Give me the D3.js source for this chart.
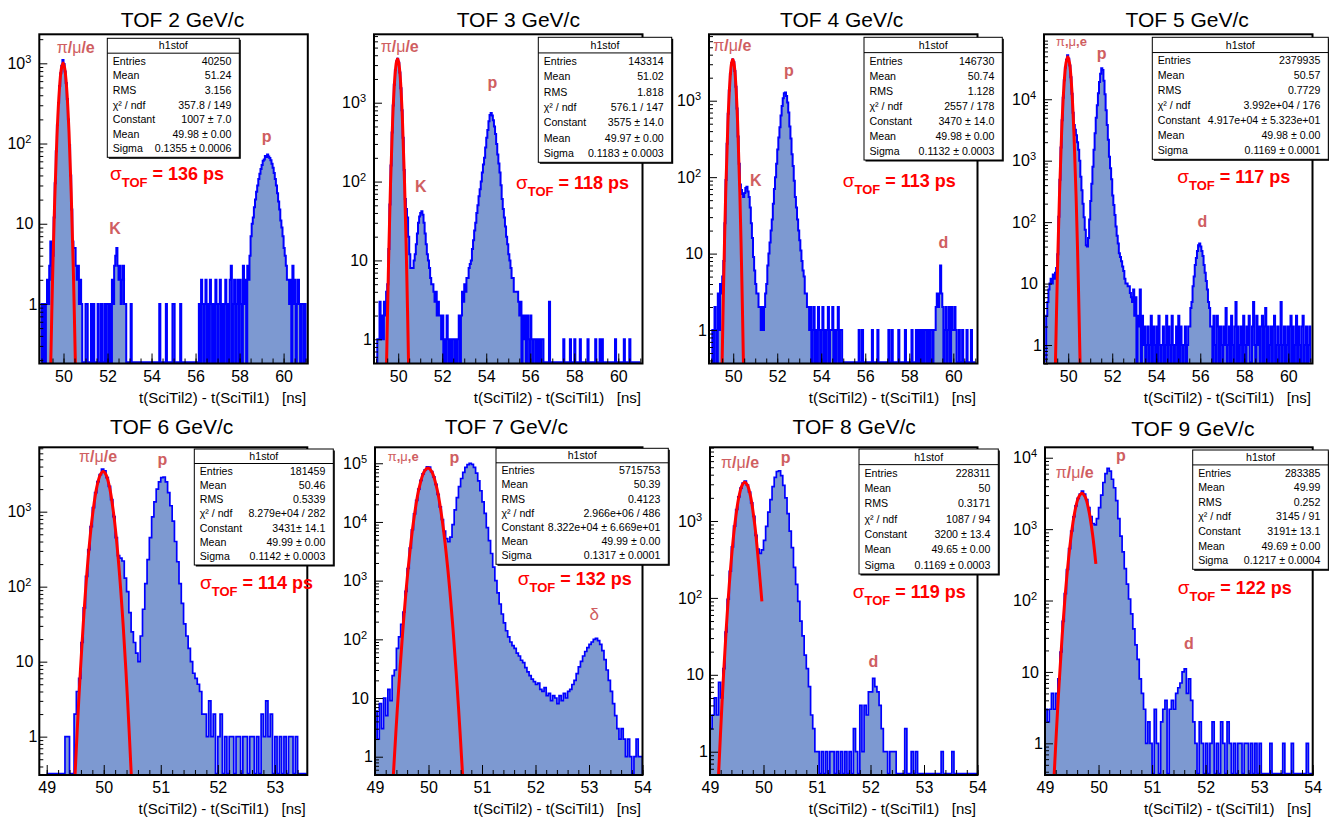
<!DOCTYPE html>
<html><head><meta charset="utf-8">
<script src="https://cdn.jsdelivr.net/npm/d3@7"></script>
<style>
html,body{margin:0;padding:0;background:#fff;}
svg{display:block;}
</style></head><body>
<svg id="c" width="1329" height="818"></svg>
<script>
// ================= DATA =================
const titles = ["TOF 2 GeV/c","TOF 3 GeV/c","TOF 4 GeV/c","TOF 5 GeV/c","TOF 6 GeV/c","TOF 7 GeV/c","TOF 8 GeV/c","TOF 9 GeV/c"];
const xAxisTitle = "t(SciTil2) - t(SciTil1)\u00a0\u00a0\u00a0[ns]";
const binStarts = [49,49,49,49,49,49,49,49];
const binWidths = [0.05,0.05,0.05,0.05,0.04,0.04,0.04,0.04];

const counts2GeV = [1,0,1,0,1,2,1,3,6,2,
4,12,32,80,170,320,520,750,930,1100,
980,790,570,360,200,95,40,15,6,5,
5,3,2,3,1,2,1,0,0,0,
1,1,0,0,0,1,0,1,0,0,
0,1,0,0,1,0,0,1,0,1,
1,0,1,0,2,1,3,4,5,3,
2,3,1,2,3,1,1,0,0,0,
0,1,0,0,0,0,0,0,0,0,
0,0,0,0,0,0,0,0,0,0,
0,0,0,0,0,0,0,1,0,0,
0,0,0,1,0,0,0,0,0,1,
1,0,0,0,0,0,1,0,0,0,
0,0,0,0,0,0,0,0,0,0,
0,0,0,1,0,2,1,0,1,2,
0,1,0,2,1,0,1,0,2,1,
0,1,2,0,1,0,1,2,0,1,
0,2,3,0,1,2,0,1,2,0,
2,1,0,3,1,2,0,3,2,4,
7,10,12,16,20,25,30,36,42,48,
54,61,63,70,68,73,69,66,62,56,
50,43,36,30,24,19,15,11,9,7,
5,4,3,2,2,1,2,0,3,1,
2,0,1,2,1,0,1,1,0,1];

const counts3GeV = [0,1,1,3,1,2,1,3,2,4,
5,14,51,160,420,920,1690,2590,3330,3600,
3210,2410,1520,800,360,140,60,45,35,20,
12,8,8,8,10,12,16,22,30,36,
40,42,38,30,22,16,12,10,8,6,
5,5,4,3,4,2,3,2,2,1,
2,0,1,0,2,1,0,1,0,1,
1,0,1,0,1,2,0,2,4,3,
5,4,6,6,8,9,10,14,18,24,
30,40,50,65,80,100,130,165,200,270,
360,450,580,700,740,690,600,500,400,300,
220,170,130,90,60,45,35,27,20,16,
12,10,8,6,6,4,4,4,4,3,
2,3,0,2,1,2,0,2,1,0,
2,1,0,1,1,0,1,0,1,0,
1,1,0,0,0,0,0,3,0,0,
0,0,0,0,0,0,0,0,0,0,
1,0,0,0,0,0,1,0,0,0,
1,0,0,0,0,1,0,0,0,0,
0,0,1,0,0,0,0,0,0,1,
0,0,0,1,0,1,0,0,0,0,
0,0,0,0,0,0,0,1,0,0,
0,0,0,0,0,1,0,0,0,0,
1,0,0,0,0,0,0,0,0,0];

const counts4GeV = [0,1,0,2,1,0,3,1,4,3,
5,8,25,92,274,673,1357,2256,3085,3470,
3206,2440,1527,788,340,150,80,68,60,55,
62,72,75,65,55,40,25,16,9,6,
4,3,3,2,2,1,2,1,2,3,
4,7,10,14,20,28,45,70,100,150,
230,330,450,640,850,1080,1250,1280,1150,950,
700,460,320,200,140,90,55,40,28,20,
15,11,8,6,5,3,3,2,2,1,
2,0,1,2,0,1,0,2,1,0,
1,2,0,1,0,1,2,0,1,1,
2,0,1,0,1,2,0,1,1,0,
0,0,0,0,0,0,0,0,0,0,
0,0,0,0,1,0,0,1,0,0,
0,0,0,0,0,0,1,0,0,0,
0,1,0,0,0,0,0,0,0,0,
0,1,0,0,1,0,0,0,0,0,
1,0,0,0,0,0,1,0,0,0,
0,0,1,0,0,0,1,0,1,0,
1,0,1,0,1,1,0,1,0,1,
1,0,1,1,2,3,2,3,7,3,
2,0,1,2,0,1,2,0,2,1,
1,2,1,0,0,1,0,0,1,0,
0,0,1,0,0,0,1,0,0,0];

const counts5GeV = [3,5,8,10,12,10,14,12,15,18,
30,122,489,1640,4550,10550,20400,32850,44000,52000,
45670,35350,22780,12240,6000,3800,3200,2600,2000,1500,
1000,550,330,200,120,75,42,40,55,110,
220,420,800,1500,2800,5000,8000,12500,19000,26000,
32000,30000,20000,12000,6600,3800,2200,1160,750,500,
270,190,130,85,60,45,31,27,23,19,
16,12,10,10,9,9,7,6,5,8,
3,6,0,3,2,8,0,3,1,2,
0,1,2,0,1,3,0,2,1,0,
2,0,3,1,0,1,2,0,1,3,
0,2,1,0,3,1,0,1,2,0,
3,0,2,1,0,1,2,0,1,2,
2,4,5,9,13,20,26,34,42,45,
40,34,28,20,15,11,8,5,4,2,
2,0,3,1,0,3,2,0,2,1,
0,2,1,4,0,1,2,0,3,1,
0,2,5,0,2,0,1,2,0,3,
1,0,2,1,3,0,0,2,5,1,
0,3,1,2,0,2,3,0,2,4,
0,2,0,1,2,0,2,3,0,1,
2,0,1,5,0,1,2,0,1,2,
0,2,3,0,2,0,1,3,0,2,
1,0,2,3,0,1,2,0,1,2];

const counts6GeV = [0,0,0,0,0,0,0,0,1,1,
0,0,2,4,6,18,52,137,311,633,
1133,1790,2510,3120,3700,3500,2840,2170,1450,860,
450,260,240,220,130,86,45,25,18,13,
10,22,50,110,230,450,850,1350,2000,2500,
2850,2900,2500,1800,1200,750,400,215,110,60,
32,22,15,10,7,6,5,4,2,2,
1,3,1,2,0,1,2,0,1,0,
1,1,0,1,1,0,1,1,0,1,
1,0,1,0,2,1,3,1,2,0,
1,0,1,0,1,0,1,1,0,1,
0,0,0,0];

const counts7GeV = [6,2,8,3,10,5,14,9,24,30,
70,110,180,290,654,1610,3600,7370,13700,23300,
36170,51100,65900,77400,87000,86000,72240,58700,43500,29400,
18100,11000,7000,5200,4600,5500,9000,16000,26000,40000,
55000,70000,85000,95000,100000,96000,85000,68000,50000,34000,
22000,14000,8000,4800,2900,1700,1000,620,400,270,
190,140,110,90,78,70,58,52,44,40,
33,28,24,21,19,17,18,14,13,15,
11,12,9,11,10,8,11,9,12,10,
13,14,17,20,26,34,42,52,62,72,
82,90,100,104,95,82,64,45,30,20,
13,8,5,3,2,3,2,1,2,1,
0,1,2,1,1];

const counts8GeV = [2,3,5,3,8,5,12,36,96,222,
460,855,1410,2060,2670,3100,3300,2920,2380,1720,
1150,650,430,380,420,560,850,1300,1900,2800,
3700,4400,4500,3900,2900,2000,1250,740,450,250,
150,90,50,32,18,12,7,3,2,1,
1,0,1,0,1,0,1,1,0,1,
0,1,0,1,0,1,0,2,1,0,
4,1,4,3,6,6,9,7,6,4,
2,1,1,0,1,1,1,0,0,0,
0,2,0,0,1,0,1,0,0,0,
0,0,0,0,0,0,0,0,1,0,
0,0,0,1,0,0,0,0,0,0,
0,0,0,0,0];

const counts9GeV = [3,2,3,5,3,5,8,19,51,125,
272,532,942,1490,2120,2700,3100,3400,3100,2600,
2000,1500,1200,1150,1400,2000,3000,4500,6000,7100,
6500,5000,3800,2500,1400,800,480,280,170,105,
65,40,24,15,8,5,3,1,2,1,
0,3,1,0,2,3,4,0,3,4,
3,5,6,7,10,11,5,8,4,2,
1,0,2,1,0,1,0,1,2,0,
1,0,2,1,0,2,1,0,1,0,
1,1,0,1,1,0,1,0,1,0,
1,0,0,0,0,1,0,0,0,0,
0,1,0,0,0,1,0,0,0,0,
0,0,1,0,0];

// Gaussian fit curves
const fitX2GeV = [49.42,49.5,49.6,49.7,49.8,49.9,49.98,50.05,50.15,50.25,50.35,50.45,50.54];
const fitY2GeV = [0.18,1.9,19.7,119,417,846,1007,881,458,139,24,2.4,0.18];
const fitX3GeV = [49.47,49.55,49.65,49.75,49.85,49.92,49.97,50.02,50.09,50.19,50.29,50.39,50.47];
const fitY3GeV = [0.49,6.6,92,633,2138,3270,3575,3270,2138,633,92,6.6,0.49];
const fitX4GeV = [49.495,49.56,49.66,49.76,49.86,49.93,49.98,50.03,50.10,50.20,50.30,50.40,50.465];
const fitY4GeV = [0.36,3.6,64,524,1980,3150,3470,3150,1980,524,64,3.6,0.36];
const fitX5GeV = [49.42,49.5,49.6,49.7,49.8,49.9,49.98,50.06,50.16,50.26,50.36,50.46,50.54];
const fitY5GeV = [0.5,10.7,251,2790,15000,38900,49170,38900,15000,2790,251,10.7,0.5];
const fitX6GeV = [49.497,49.56,49.64,49.72,49.80,49.88,49.94,49.99,50.04,50.10,50.18,50.26,50.34,50.42,50.483];
const fitY6GeV = [0.31,2.85,31.3,210,860,2157,3118,3431,3118,2157,860,210,31.3,2.85,0.31];
const fitX7GeV = [49.343,49.42,49.52,49.62,49.72,49.82,49.92,49.99,50.06,50.16,50.26,50.36,50.46,50.56,50.637];
const fitY7GeV = [0.49,7.1,142,1610,10180,36170,72240,83220,72240,36170,10180,1610,142,7.1,0.49];
const fitX8GeV = [49.16,49.22,49.30,49.38,49.46,49.54,49.60,49.65,49.70,49.76,49.84,49.91,49.97];
const fitY8GeV = [0.5,3.69,36.2,222,854,2055,2920,3200,2920,2055,854,270,90];
const fitX9GeV = [49.171,49.24,49.32,49.40,49.48,49.56,49.63,49.69,49.75,49.82,49.89,49.95];
const fitY9GeV = [0.36,3.42,31.4,187,720,1804,2826,3191,2826,1804,827,326];

const xDomains = [[48.9,61.1],[48.9,61.1],[48.9,61.1],[48.9,61.1],[48.87,53.57],[49,54],[49,54],[49,54]];
const yDomains = [[0.181,2300],[0.493,7370],[0.365,7390],[0.5,114000],[0.308,7220],[0.488,187000],[0.498,9080],[0.36,14000]];
const xMajorTicks = [[50,52,54,56,58,60],[50,52,54,56,58,60],[50,52,54,56,58,60],[50,52,54,56,58,60],
  [49,50,51,52,53],[49,50,51,52,53,54],[49,50,51,52,53,54],[49,50,51,52,53,54]];
const xMinorSteps = [0.5,0.5,0.5,0.5,0.2,0.2,0.2,0.2];
const yLabelTicks = [[1,10,100,1000],[1,10,100,1000],[1,10,100,1000],[1,10,100,1000,10000],
  [1,10,100,1000],[1,10,100,1000,10000,100000],[1,10,100,1000],[1,10,100,1000,10000]];

const statsTitle = "h1stof";
const statsNames = ["Entries","Mean","RMS","\u03c7\u00b2 / ndf","Constant","Mean","Sigma"];
const stats2GeV = ["40250","51.24","3.156","357.8 / 149","1007 \u00b1 7.0","49.98 \u00b1 0.00","0.1355 \u00b1 0.0006"];
const stats3GeV = ["143314","51.02","1.818","576.1 / 147","3575 \u00b1 14.0","49.97 \u00b1 0.00","0.1183 \u00b1 0.0003"];
const stats4GeV = ["146730","50.74","1.128","2557 / 178","3470 \u00b1 14.0","49.98 \u00b1 0.00","0.1132 \u00b1 0.0003"];
const stats5GeV = ["2379935","50.57","0.7729","3.992e+04 / 176","4.917e+04 \u00b1 5.323e+01","49.98 \u00b1 0.00","0.1169 \u00b1 0.0001"];
const stats6GeV = ["181459","50.46","0.5339","8.279e+04 / 282","3431\u00b1 14.1","49.99 \u00b1 0.00","0.1142 \u00b1 0.0003"];
const stats7GeV = ["5715753","50.39","0.4123","2.966e+06 / 486","8.322e+04 \u00b1 6.669e+01","49.99 \u00b1 0.00","0.1317 \u00b1 0.0001"];
const stats8GeV = ["228311","50","0.3171","1087 / 94","3200 \u00b1 13.4","49.65 \u00b1 0.00","0.1169 \u00b1 0.0003"];
const stats9GeV = ["283385","49.99","0.252","3145 / 91","3191\u00b1 13.1","49.69 \u00b1 0.00","0.1217 \u00b1 0.0004"];

const sigmaTOFps = [136,118,113,117,114,132,119,122];
const particleNames = [["\u03c0/\u03bc/e","K","p"],["\u03c0/\u03bc/e","K","p"],["\u03c0/\u03bc/e","K","p","d"],["\u03c0,\u03bc,e","p","d"],
  ["\u03c0/\u03bc/e","p"],["\u03c0,\u03bc,e","p","\u03b4"],["\u03c0/\u03bc/e","p","d"],["\u03c0/\u03bc/e","p","d"]];

// ================= LAYOUT =================
const FONT = '"Liberation Sans", Arial, Helvetica, sans-serif';
const frameBoxes = [[39.3,34.3,307.8,363.5],[374,34.3,642.5,363.5],[709,34.3,977.5,363.5],[1044,34.3,1312.5,363.5],
  [39.3,447.3,307.3,775],[375,447.3,642.5,775],[710,447.3,977.5,775],[1045,447.3,1312.7,775]];
const statsBoxes = [[107.3,38.3,239.3,157.3],[538.3,37.3,671.7,162.3],[864,37.3,1002.3,160],[1152.3,37.3,1328.3,159.3],
  [194.3,449,333.3,565],[496,448.3,668.3,564.3],[859,449,998.3,574],[1192.7,450,1328.3,569.3]];
const titlePos = [[182.5,26.7],[518.3,26.7],[841.7,26.7],[1187.2,26.7],[171.7,433.5],[506.3,433.5],[854.2,434.3],[1192.8,436]];
const axisTitleY = [403,403,403,403,814.3,814.3,814.3,814.3];
const sigmaPos = [[110,180],[516,189.3],[842.7,186.7],[1177.3,183.3],[200,589.3],[517.7,585],[852.7,598.3],[1177.7,594]];
const particlePos = [
  [[56.7,53,"start",16],[115,234,"middle",16],[266.7,141.7,"middle",16]],
  [[380.7,52,"start",16],[420.7,191.7,"middle",16],[492.3,88,"middle",16]],
  [[713.3,50.7,"start",16],[755.7,185.7,"middle",16],[789,75.7,"middle",16],[943.3,248.3,"middle",16]],
  [[1056,46,"start",13],[1101.7,59,"middle",16],[1202.3,227,"middle",16]],
  [[79,462.3,"start",16],[162.3,465,"middle",16]],
  [[387.7,461,"start",13],[454.3,463.3,"middle",16],[594.3,620,"middle",17]],
  [[721,467.7,"start",16],[785.7,462.7,"middle",16],[873.3,666.7,"middle",16]],
  [[1055.7,477.7,"start",16],[1121,461,"middle",16],[1189,649.3,"middle",16]]
];

const panels = [
  {counts:counts2GeV, fx:fitX2GeV, fy:fitY2GeV, stats:stats2GeV},
  {counts:counts3GeV, fx:fitX3GeV, fy:fitY3GeV, stats:stats3GeV},
  {counts:counts4GeV, fx:fitX4GeV, fy:fitY4GeV, stats:stats4GeV},
  {counts:counts5GeV, fx:fitX5GeV, fy:fitY5GeV, stats:stats5GeV},
  {counts:counts6GeV, fx:fitX6GeV, fy:fitY6GeV, stats:stats6GeV},
  {counts:counts7GeV, fx:fitX7GeV, fy:fitY7GeV, stats:stats7GeV},
  {counts:counts8GeV, fx:fitX8GeV, fy:fitY8GeV, stats:stats8GeV},
  {counts:counts9GeV, fx:fitX9GeV, fy:fitY9GeV, stats:stats9GeV}
];

const FILL = "#7d99d1", LINE = "#0000ff", FIT = "#ff0000", PCOL = "#cf5e61";

const svg = d3.select("#c").attr("font-family", FONT);
svg.append("rect").attr("width",1329).attr("height",818).attr("fill","#fff");
const defs = svg.append("defs");

function greekText(sel, str, x, y, anchor, size, color){
  const t = sel.append("text").attr("x",x).attr("y",y).attr("text-anchor",anchor)
    .attr("font-size",size).attr("fill",color);
  for (const ch of str) t.append("tspan").attr("font-weight", /[\u03b1-\u03c9]/.test(ch) ? "normal" : "bold").text(ch);
}

panels.forEach((p, i) => {
  const [fx0, fy0, fx1, fy1] = frameBoxes[i];
  const x = d3.scaleLinear().domain(xDomains[i]).range([fx0, fx1]);
  const y = d3.scaleLog().domain(yDomains[i]).range([fy1, fy0]);
  const g = svg.append("g");
  const top = i < 4;

  defs.append("clipPath").attr("id","clip"+i).append("rect")
    .attr("x",fx0).attr("y",fy0).attr("width",fx1-fx0).attr("height",fy1-fy0);

  const yBot = fy1 - 1.3;
  const yv = c => c > 0 ? y(c) : yBot;
  const st = binStarts[i], bw = binWidths[i];
  const pts = [{x:st, c:0}].concat(p.counts.map((c,k)=>({x:st+k*bw, c:c})))
    .concat([{x:st+p.counts.length*bw, c:0}]);

  const plot = g.append("g").attr("clip-path","url(#clip"+i+")");
  plot.append("path").datum(pts)
    .attr("d", d3.area().x(d=>x(d.x)).y0(fy1+4).y1(d=>yv(d.c)).curve(d3.curveStepAfter))
    .attr("fill", FILL).attr("stroke","none");
  plot.append("path").datum(pts)
    .attr("d", d3.line().x(d=>x(d.x)).y(d=>yv(d.c)).curve(d3.curveStepAfter))
    .attr("fill","none").attr("stroke",LINE).attr("stroke-width", top ? 2 : 1.7);
  const fitPts = p.fx.map((v,k)=>[v, p.fy[k]]);
  plot.append("path").datum(fitPts)
    .attr("d", d3.line().x(d=>x(d[0])).y(d=>y(d[1])).curve(d3.curveCatmullRom.alpha(0.5)))
    .attr("fill","none").attr("stroke",FIT).attr("stroke-width",3).attr("stroke-linejoin","round");

  // frame
  g.append("rect").attr("x",fx0).attr("y",fy0).attr("width",fx1-fx0).attr("height",fy1-fy0)
    .attr("fill","none").attr("stroke","#000").attr("stroke-width",2);

  // x axis
  const xd = xDomains[i], ms = xMinorSteps[i];
  const xMinor = d3.range(Math.ceil(xd[0]/ms)*ms, xd[1]+1e-9, ms).map(v=>+v.toFixed(3));
  const xm = g.append("g").attr("transform",`translate(0,${fy1})`)
    .call(d3.axisBottom(x).tickValues(xMinor).tickSize(-5).tickFormat(()=>""));
  xm.select(".domain").remove();
  const xa = g.append("g").attr("transform",`translate(0,${fy1})`)
    .call(d3.axisBottom(x).tickValues(xMajorTicks[i]).tickSize(-10).tickPadding(7).tickFormat(d3.format("d")));
  xa.select(".domain").remove();
  xa.attr("font-size",16).attr("font-family",FONT);
  xa.selectAll("text").attr("fill","#000");

  // y axis
  const yd = yDomains[i];
  const yMinor = [];
  for (let e = Math.floor(Math.log10(yd[0])); e <= Math.ceil(Math.log10(yd[1])); e++)
    for (let m = 2; m <= 9; m++) { const v = m*Math.pow(10,e); if (v >= yd[0] && v <= yd[1]) yMinor.push(v); }
  const ym = g.append("g").attr("transform",`translate(${fx0},0)`)
    .call(d3.axisLeft(y).tickValues(yMinor).tickSize(-4).tickFormat(()=>""));
  ym.select(".domain").remove();
  const ya = g.append("g").attr("transform",`translate(${fx0},0)`)
    .call(d3.axisLeft(y).tickValues(yLabelTicks[i]).tickSize(-8).tickPadding(6));
  ya.select(".domain").remove();
  ya.attr("font-size",16).attr("font-family",FONT);
  ya.selectAll(".tick text").each(function(d){
    const t = d3.select(this).text(null).attr("fill","#000");
    const e = Math.round(Math.log10(d));
    if (e === 0) t.attr("x",-2).text("1");
    else if (e === 1) t.attr("x",-6).text("10");
    else {
      t.attr("x",-8);
      t.append("tspan").text("10");
      t.append("tspan").attr("dy",-6).attr("font-size",11).text(e);
    }
  });

  // titles
  g.append("text").attr("x",titlePos[i][0]).attr("y",titlePos[i][1]).attr("text-anchor","middle")
    .attr("font-size",21).attr("fill","#000").text(titles[i]);
  g.append("text").attr("x",fx1-1.5).attr("y",axisTitleY[i]).attr("text-anchor","end")
    .attr("font-size",15).attr("fill","#000").text(xAxisTitle);

  // particle labels
  particleNames[i].forEach((nm,k)=>{
    const [lx,ly,la,ls] = particlePos[i][k];
    greekText(g, nm, lx, ly, la, ls, PCOL);
  });

  // sigma label
  const sg = g.append("text").attr("x",sigmaPos[i][0]).attr("y",sigmaPos[i][1]).attr("fill",FIT);
  sg.append("tspan").attr("font-size",19).text("\u03c3");
  sg.append("tspan").attr("font-size",13).attr("font-weight","bold").attr("dy",7).text("TOF");
  sg.append("tspan").attr("font-size",18).attr("font-weight","bold").attr("dy",-7).text("\u00a0= " + sigmaTOFps[i] + " ps");

  // stats box
  const [bx0,by0,bx1,by1] = statsBoxes[i];
  const rh = (by1-by0)/8;
  g.append("rect").attr("x",bx0+1.5).attr("y",by0+1.5).attr("width",bx1-bx0).attr("height",by1-by0).attr("fill","#000");
  g.append("rect").attr("x",bx0).attr("y",by0).attr("width",bx1-bx0).attr("height",by1-by0)
    .attr("fill","#fff").attr("stroke","#000").attr("stroke-width",1);
  g.append("line").attr("x1",bx0).attr("x2",bx1).attr("y1",by0+rh).attr("y2",by0+rh).attr("stroke","#000").attr("stroke-width",1);
  g.append("text").attr("x",(bx0+bx1)/2).attr("y",by0+rh*0.75).attr("text-anchor","middle")
    .attr("font-size",10.6).attr("fill","#000").text(statsTitle);
  statsNames.forEach((nm,k)=>{
    const yy = by0 + rh*(1.78 + 0.98*k);
    g.append("text").attr("x",bx0+5.5).attr("y",yy).attr("font-size",10.6).attr("fill","#000").text(nm);
    g.append("text").attr("x",bx1-8).attr("y",yy).attr("text-anchor","end").attr("font-size",10.6).attr("fill","#000").text(p.stats[k]);
  });
});
</script>
</body></html>
